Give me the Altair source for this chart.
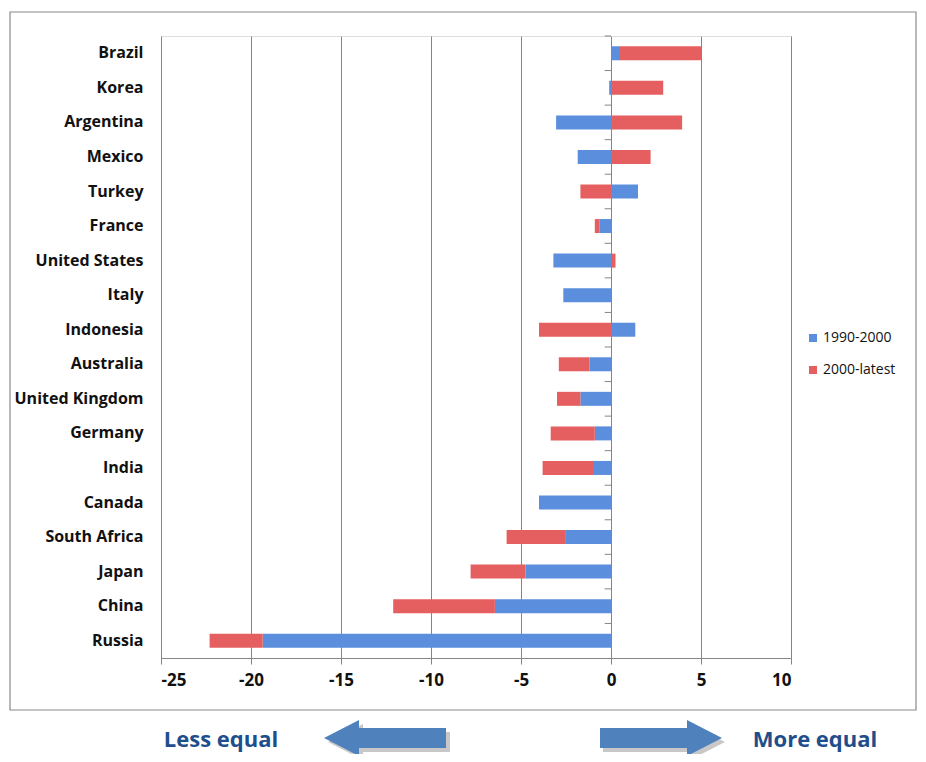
import altair as alt
import pandas as pd

countries = ["Brazil", "Korea", "Argentina", "Mexico", "Turkey", "France",
             "United States", "Italy", "Indonesia", "Australia", "United Kingdom",
             "Germany", "India", "Canada", "South Africa", "Japan", "China", "Russia"]
v_1990_2000 = [0.5, -0.1, -3.05, -1.85, 1.5, -0.65, -3.2, -2.65, 1.35, -1.2,
               -1.7, -0.9, -1.0, -4.0, -2.55, -4.75, -6.45, -19.35]
v_2000_latest = [4.5, 2.9, 3.95, 2.2, -1.7, -0.25, 0.25, 0.0, -4.0, -1.7,
                 -1.3, -2.45, -2.8, 0.0, -3.25, -3.05, -5.65, -2.95]
series = ["1990-2000", "2000-latest"]
x_ticks = [-25, -20, -15, -10, -5, 0, 5, 10]

BLUE = "#5B8EDC"
RED = "#E65F60"
GRID = "#858585"
FONT = "Open Sans"

rows = []
for i, c in enumerate(countries):
    rows.append({"country": c, "series": series[0], "value": v_1990_2000[i], "ord": 0})
    rows.append({"country": c, "series": series[1], "value": v_2000_latest[i], "ord": 1})
df = pd.DataFrame(rows)

xscale = alt.Scale(domain=[-25, 10], nice=False, zero=False)
yscale = alt.Scale(paddingInner=0, paddingOuter=0)

bars = alt.Chart(df).mark_bar(size=14).encode(
    x=alt.X("value:Q", stack="zero", scale=xscale, title=None,
            axis=alt.Axis(values=x_ticks, grid=True, gridColor=GRID, gridOpacity=1,
                          domainColor=GRID, tickColor=GRID, tickSize=6,
                          labelExpr="datum.value + ''",
                          labelFont=FONT, labelFontSize=17, labelFontWeight="bold",
                          labelColor="#111", labelPadding=8)),
    y=alt.Y("country:N", sort=countries, scale=yscale, title=None,
            axis=alt.Axis(domain=False, ticks=False, labelPadding=18,
                          labelFont=FONT, labelFontSize=16, labelFontWeight="bold",
                          labelColor="#111")),
    color=alt.Color("series:N", scale=alt.Scale(domain=series, range=[BLUE, RED]),
                    legend=alt.Legend(title=None, orient="none", legendX=645, legendY=295,
                                      symbolType="square", symbolSize=64, symbolStrokeWidth=0,
                                      labelFont=FONT, labelFontSize=14, labelColor="#111",
                                      labelOffset=3, rowPadding=18, symbolOpacity=1)),
    order=alt.Order("ord:Q"),
)

tick_df = pd.DataFrame({"country": countries})
yticks = alt.Chart(tick_df).mark_rule(color=GRID, strokeWidth=1).encode(
    y=alt.Y("country:N", sort=countries, scale=yscale, bandPosition=0, title=None),
    x=alt.datum(-0.35),
    x2=alt.datum(0),
)

one = pd.DataFrame({"a": [0]})
frame = alt.Chart(one).mark_rect(fill=None, stroke="#8a8a8a", strokeWidth=1.2).encode(
    x=alt.value(-151), x2=alt.value(755), y=alt.value(-24), y2=alt.value(674)
)

left_path = "M -1 0 L -0.426 -0.295 L -0.426 -0.164 L 1 -0.164 L 1 0.164 L -0.426 0.164 L -0.426 0.295 Z"
right_path = "M 1 0 L 0.426 -0.295 L 0.426 -0.164 L -1 -0.164 L -1 0.164 L 0.426 0.164 L 0.426 0.295 Z"

def arrow(path, cx, cy, color):
    return alt.Chart(one).mark_point(shape=path, size=14884, filled=True, fill=color,
                                     stroke=None, opacity=1).encode(
        x=alt.value(cx), y=alt.value(cy))

arrows = (arrow(left_path, 228, 706, "#C8C8C8") + arrow(left_path, 224, 702, "#4F81BD")
          + arrow(right_path, 503, 706, "#C8C8C8") + arrow(right_path, 500, 702, "#4F81BD"))

texts = alt.Chart(pd.DataFrame({"t": ["Less equal", "More equal"], "px": [60, 654]})).mark_text(
    font=FONT, fontSize=22, fontWeight="bold", color="#1F4E8C", align="center", baseline="alphabetic"
).encode(x=alt.X("px:Q", scale=None), y=alt.value(711), text="t:N")

chart = alt.layer(frame, bars, yticks, arrows, texts).properties(
    width=630, height=622,
    autosize=alt.AutoSizeParams(type="none"),
    padding={"left": 153, "top": 28, "right": 127, "bottom": 96},
).configure_view(stroke=None).configure(background="white")

chart.save("out.html", embed_options={"renderer": "svg", "actions": False})
